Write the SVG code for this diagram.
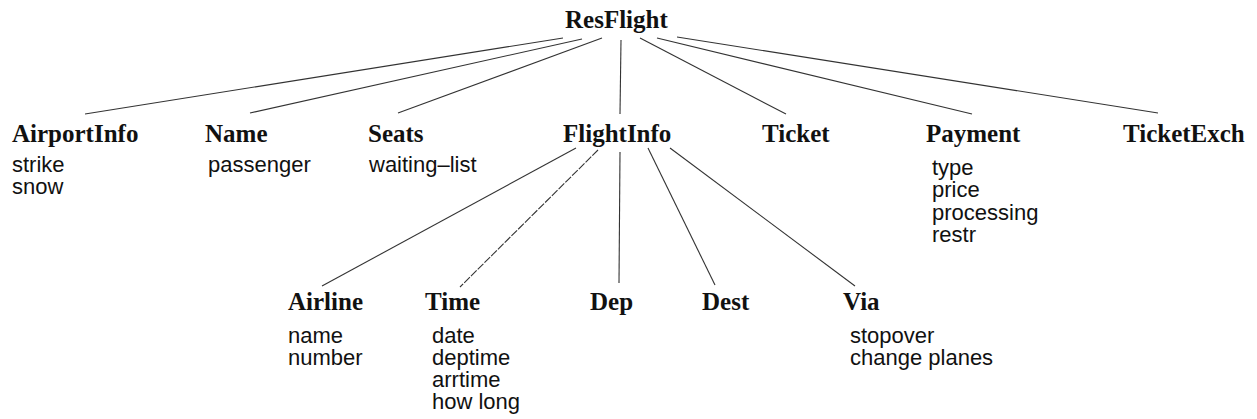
<svg xmlns="http://www.w3.org/2000/svg" width="1257" height="419" viewBox="0 0 1257 419">
<style>
.t{font-family:"Liberation Serif","Times New Roman",serif;font-weight:bold;font-size:25px;fill:#111}
.s{font-family:"Liberation Sans",Arial,sans-serif;font-size:22px;fill:#111}
.c line{stroke:#333;stroke-width:1.1;fill:none}
</style>
<rect width="1257" height="419" fill="#fff"/>
<g class="c" id="connectors">
<line x1="563" y1="38" x2="85" y2="114"/>
<line x1="582" y1="39" x2="250" y2="113"/>
<line x1="602" y1="38" x2="398" y2="113"/>
<line x1="621" y1="40" x2="620" y2="114"/>
<line x1="640" y1="38" x2="786" y2="114"/>
<line x1="657" y1="38" x2="972" y2="114"/>
<line x1="677" y1="37" x2="1158" y2="113"/>
<line x1="576" y1="148" x2="322" y2="286"/>
<line x1="598" y1="150" x2="460" y2="287" stroke-dasharray="8 1.5"/>
<line x1="620" y1="152" x2="619" y2="283"/>
<line x1="648" y1="148" x2="715" y2="285"/>
<line x1="670" y1="148" x2="855" y2="286"/>
</g>
<g id="ResFlight"><text class="t" x="565" y="28">ResFlight</text></g>
<g id="AirportInfo"><text class="t" x="12" y="142">AirportInfo</text>
<text class="s" x="12" y="172">strike</text><text class="s" x="12" y="194">snow</text></g>
<g id="Name"><text class="t" x="205" y="142">Name</text>
<text class="s" x="208" y="172">passenger</text></g>
<g id="Seats"><text class="t" x="368" y="142">Seats</text>
<text class="s" x="369" y="172">waiting–list</text></g>
<g id="FlightInfo"><text class="t" x="563" y="142">FlightInfo</text></g>
<g id="Ticket"><text class="t" x="762" y="142">Ticket</text></g>
<g id="Payment"><text class="t" x="926" y="142">Payment</text>
<text class="s" x="932" y="175">type</text><text class="s" x="932" y="197">price</text>
<text class="s" x="932" y="220">processing</text><text class="s" x="932" y="242">restr</text></g>
<g id="TicketExch"><text class="t" x="1123" y="142">TicketExch</text></g>
<g id="Airline"><text class="t" x="288" y="310">Airline</text>
<text class="s" x="288" y="343">name</text><text class="s" x="288" y="365">number</text></g>
<g id="Time"><text class="t" x="425" y="310">Time</text>
<text class="s" x="432" y="343">date</text><text class="s" x="432" y="365">deptime</text>
<text class="s" x="432" y="387">arrtime</text><text class="s" x="432" y="409">how long</text></g>
<g id="Dep"><text class="t" x="590" y="310">Dep</text></g>
<g id="Dest"><text class="t" x="702" y="310">Dest</text></g>
<g id="Via"><text class="t" x="843" y="310">Via</text>
<text class="s" x="850" y="343">stopover</text><text class="s" x="850" y="365">change planes</text></g>
</svg>
